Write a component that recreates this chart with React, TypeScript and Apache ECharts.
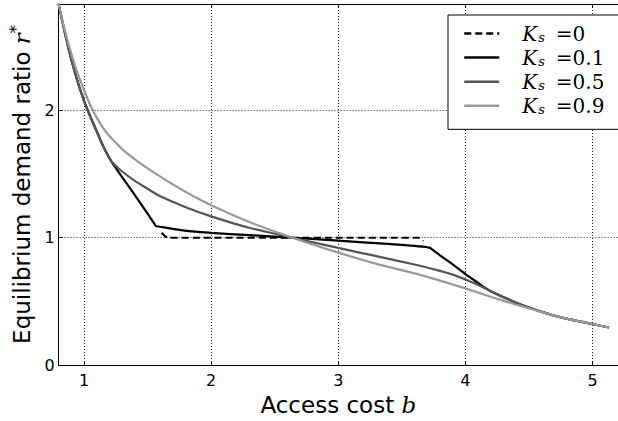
import React, { useEffect, useRef } from "react";
import * as echarts from "echarts";

// ---- data ----
const ksLabels = ["0", "0.1", "0.5", "0.9"];
const lineColors = ["#000000", "#000000", "#555555", "#999999"];

// K_s = 0 (dashed, only visible part)
const bK0 = [1.61, 1.66, 2.0, 2.64, 3.0, 3.4, 3.63, 3.67];
const rK0 = [1.04, 1.0, 1.0, 1.0, 1.0, 1.0, 1.0, 0.975];

// K_s = 0.1
const bK01 = [0.8, 0.85, 0.9, 0.95, 1.0, 1.05, 1.1, 1.15, 1.21, 1.3, 1.4, 1.5, 1.55, 1.566, 1.585, 1.7, 1.85, 2.0, 2.3, 2.64, 3.0, 3.39, 3.6, 3.7, 3.72, 3.74, 3.8, 3.9, 4.0, 4.1, 4.15, 4.2, 4.3, 4.4, 4.5, 4.6, 4.75, 5.0, 5.13];
const rK01 = [2.835, 2.605, 2.4, 2.225, 2.075, 1.95, 1.835, 1.72, 1.607, 1.475, 1.335, 1.19, 1.115, 1.092, 1.088, 1.07, 1.05, 1.038, 1.02, 1.0, 0.977, 0.951, 0.936, 0.925, 0.922, 0.907, 0.862, 0.79, 0.715, 0.645, 0.61, 0.58, 0.533, 0.49, 0.452, 0.418, 0.375, 0.322, 0.295];

// K_s = 0.5
const bK05 = [0.8, 0.85, 0.9, 0.95, 1.0, 1.05, 1.1, 1.15, 1.21, 1.25, 1.3, 1.4, 1.5, 1.6, 1.8, 2.0, 2.3, 2.64, 3.0, 3.3, 3.6, 3.8, 3.9, 4.0, 4.1, 4.2, 4.3, 4.4, 4.5, 4.6, 4.75, 5.0, 5.13];
const rK05 = [2.835, 2.605, 2.4, 2.225, 2.075, 1.95, 1.835, 1.72, 1.607, 1.565, 1.52, 1.447, 1.385, 1.325, 1.24, 1.168, 1.078, 1.0, 0.92, 0.855, 0.79, 0.74, 0.71, 0.672, 0.628, 0.58, 0.533, 0.49, 0.452, 0.418, 0.375, 0.322, 0.295];

// K_s = 0.9
const bK09 = [0.8, 0.85, 0.9, 0.95, 1.0, 1.05, 1.1, 1.15, 1.2, 1.3, 1.4, 1.5, 1.6, 1.7, 1.8, 1.9, 2.0, 2.3, 2.64, 3.0, 3.3, 3.63, 4.0, 4.25, 4.5, 4.6, 4.75, 5.0, 5.13];
const rK09 = [2.835, 2.625, 2.445, 2.29, 2.16, 2.04, 1.943, 1.863, 1.798, 1.696, 1.616, 1.545, 1.48, 1.418, 1.36, 1.306, 1.255, 1.123, 1.0, 0.883, 0.795, 0.712, 0.602, 0.52, 0.445, 0.417, 0.375, 0.322, 0.295];

const seriesB = [bK0, bK01, bK05, bK09];
const seriesR = [rK0, rK01, rK05, rK09];

const X_MIN = 0.8;
const X_MAX = 5.2;
const Y_MIN = 0;
const Y_MAX = 2.835;

const zip = (b: number[], r: number[]) => b.map((v, i) => [v, r[i]]);

export default function App() {
  const ref = useRef<HTMLDivElement>(null);

  useEffect(() => {
    if (!ref.current) return;
    const chart = echarts.init(ref.current, undefined, { renderer: "svg" });

    const gridLine = { show: true, lineStyle: { color: "#222", width: 1, type: [1, 2] as any } };
    const frame = { show: true, lineStyle: { color: "#000", width: 1 } };
    const ticks = { show: true, inside: true, length: 4, lineStyle: { color: "#000", width: 1 } };

    const names = ksLabels.map((k) => "Ks=" + k);

    const option: any = {
      animation: false,
      backgroundColor: "#ffffff",
      textStyle: { fontFamily: "DejaVu Sans" },
      grid: { left: 56.7, top: 4, width: 570.7, height: 367.7, containLabel: false },
      legend: {
        data: names,
        orient: "vertical",
        left: 448,
        top: 15,
        padding: [8, 15, 13, 15],
        itemGap: 3.1,
        itemWidth: 35,
        itemHeight: 14,
        backgroundColor: "#ffffff",
        borderColor: "#000",
        borderWidth: 1,
        borderRadius: 0,
        selectedMode: false,
        itemStyle: { opacity: 0, borderWidth: 0 },
        lineStyle: { width: 2.5 },
        formatter: (name: string) => {
          const k = name.replace("Ks=", "");
          return "{k|K}{s|s}{e|=" + k + "}";
        },
        textStyle: {
          color: "#000",
          lineHeight: 21,
          rich: {
            k: { fontFamily: "DejaVu Serif", fontStyle: "italic", fontSize: 20, lineHeight: 21, padding: [0, 0, 0, 18], color: "#000" },
            s: { fontFamily: "DejaVu Serif", fontStyle: "italic", fontSize: 13, lineHeight: 13, verticalAlign: "bottom", padding: [0, 0, 0, 1], color: "#000" },
            e: { fontFamily: "DejaVu Serif", fontSize: 20, lineHeight: 21, padding: [0, 0, 0, 11], color: "#000" },
          },
        },
      },
      xAxis: [
        {
          type: "value",
          min: X_MIN,
          max: X_MAX,
          position: "bottom",
          axisLine: frame,
          axisTick: ticks,
          splitLine: gridLine,
          axisLabel: { color: "#000", fontSize: 16, margin: 7, showMinLabel: false, showMaxLabel: false, fontFamily: "DejaVu Sans" },
          name: "{a|Access cost }{b|b}",
          nameLocation: "middle",
          nameGap: 22,
          nameTextStyle: {
            color: "#000",
            verticalAlign: "top",
            rich: {
              a: { fontFamily: "DejaVu Sans", fontSize: 23, color: "#000" },
              b: { fontFamily: "DejaVu Serif", fontStyle: "italic", fontSize: 23, color: "#000" },
            },
          },
        },
        {
          type: "value",
          min: X_MIN,
          max: X_MAX,
          position: "top",
          axisLine: frame,
          axisTick: ticks,
          splitLine: { show: false },
          axisLabel: { show: false },
        },
      ],
      yAxis: {
        type: "value",
        min: Y_MIN,
        max: Y_MAX,
        interval: 1,
        axisLine: frame,
        axisTick: ticks,
        splitLine: gridLine,
        axisLabel: { color: "#000", fontSize: 16, margin: 4, showMaxLabel: false, fontFamily: "DejaVu Sans" },
        name: "{a|Equilibrium demand ratio }{r|r}{st|*}",
        nameLocation: "middle",
        nameGap: 20,
        nameRotate: 90,
        nameTextStyle: {
          color: "#000",
          rich: {
            a: { fontFamily: "DejaVu Sans", fontSize: 23, lineHeight: 28, color: "#000" },
            r: { fontFamily: "DejaVu Serif", fontStyle: "italic", fontSize: 23, lineHeight: 28, color: "#000" },
            st: { fontFamily: "DejaVu Serif", fontSize: 16, lineHeight: 16, verticalAlign: "top", color: "#000" },
          },
        },
      },
      series: names.map((n, i) => ({
        name: n,
        type: "line",
        data: zip(seriesB[i], seriesR[i]),
        showSymbol: false,
        symbol: "none",
        smooth: 0.2,
        clip: true,
        itemStyle: { color: lineColors[i] },
        lineStyle: { color: lineColors[i], width: 2.2, type: i === 0 ? [7, 4] : "solid" },
        z: 2 + i,
      })),
    };

    chart.setOption(option);
    return () => chart.dispose();
  }, []);

  return <div ref={ref} style={{ position: "fixed", left: 0, top: 0, width: 618, height: 421 }} />;
}
